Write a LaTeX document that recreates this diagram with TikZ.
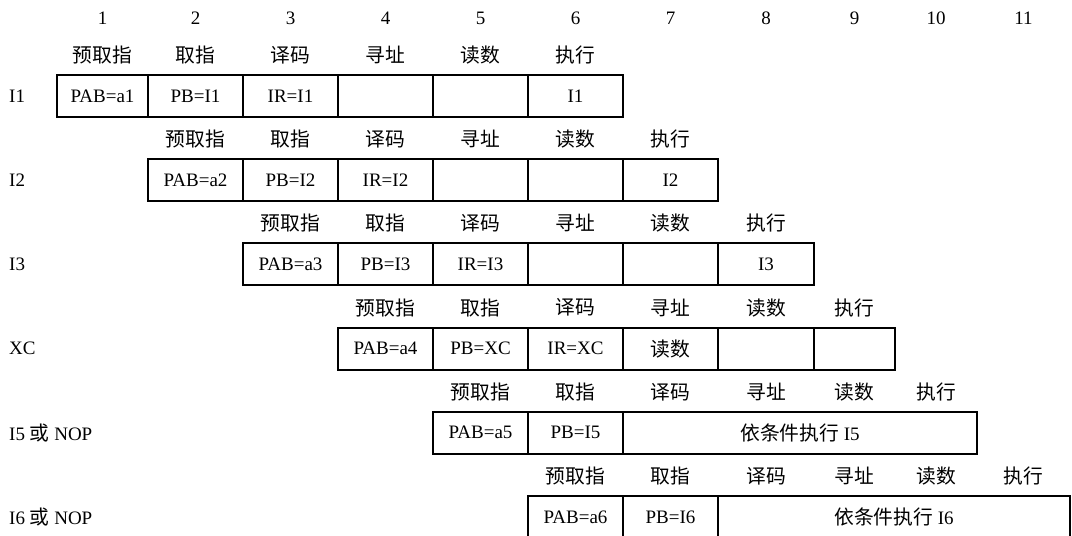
\documentclass[tikz,border=0pt]{standalone}
\usepackage{fontspec}
\setmainfont{Liberation Serif}
\newfontfamily\cjk[Scale=1.04]{Noto Sans CJK SC}
\begin{document}
\begin{tikzpicture}[x=1pt,y=1pt,
  every node/.style={font=\fontsize{19}{22}\selectfont, inner sep=0pt},
  cell/.style={draw, line width=1.9pt, minimum height=42pt, anchor=center},
  hdr/.style={anchor=center},
  rowlbl/.style={anchor=west}]
\useasboundingbox (0,0) rectangle (1072,-536);
% column numbers
\node[hdr] (n1) at (102.5,-18) {1};
\node[hdr] (n2) at (195.5,-18) {2};
\node[hdr] (n3) at (290.5,-18) {3};
\node[hdr] (n4) at (385.5,-18) {4};
\node[hdr] (n5) at (480.5,-18) {5};
\node[hdr] (n6) at (575.5,-18) {6};
\node[hdr] (n7) at (670.5,-18) {7};
\node[hdr] (n8) at (766,-18) {8};
\node[hdr] (n9) at (854.5,-18) {9};
\node[hdr] (n10) at (936,-18) {10};
\node[hdr] (n11) at (1023.5,-18) {11};
% ---------- row 1
\node[rowlbl] (l1) at (9,-96) {I1};
\node[hdr] (h1a) at (102.5,-55) {\cjk 预取指};
\node[hdr] (h1b) at (195.5,-55) {\cjk 取指};
\node[hdr] (h1c) at (290.5,-55) {\cjk 译码};
\node[hdr] (h1d) at (385.5,-55) {\cjk 寻址};
\node[hdr] (h1e) at (480.5,-55) {\cjk 读数};
\node[hdr] (h1f) at (575.5,-55) {\cjk 执行};
\node[cell, minimum width=91pt] (c1a) at (102.5,-96) {PAB=a1};
\node[cell, minimum width=95pt] (c1b) at (195.5,-96) {PB=I1};
\node[cell, minimum width=95pt] (c1c) at (290.5,-96) {IR=I1};
\node[cell, minimum width=95pt] (c1d) at (385.5,-96) {};
\node[cell, minimum width=95pt] (c1e) at (480.5,-96) {};
\node[cell, minimum width=95pt] (c1f) at (575.5,-96) {I1};
% ---------- row 2
\node[rowlbl] (l2) at (9,-180.2) {I2};
\node[hdr] (h2a) at (195.5,-139.2) {\cjk 预取指};
\node[hdr] (h2b) at (290.5,-139.2) {\cjk 取指};
\node[hdr] (h2c) at (385.5,-139.2) {\cjk 译码};
\node[hdr] (h2d) at (480.5,-139.2) {\cjk 寻址};
\node[hdr] (h2e) at (575.5,-139.2) {\cjk 读数};
\node[hdr] (h2f) at (670.5,-139.2) {\cjk 执行};
\node[cell, minimum width=95pt] (c2a) at (195.5,-180.2) {PAB=a2};
\node[cell, minimum width=95pt] (c2b) at (290.5,-180.2) {PB=I2};
\node[cell, minimum width=95pt] (c2c) at (385.5,-180.2) {IR=I2};
\node[cell, minimum width=95pt] (c2d) at (480.5,-180.2) {};
\node[cell, minimum width=95pt] (c2e) at (575.5,-180.2) {};
\node[cell, minimum width=95pt] (c2f) at (670.5,-180.2) {I2};
% ---------- row 3
\node[rowlbl] (l3) at (9,-264.4) {I3};
\node[hdr] (h3a) at (290.5,-223.4) {\cjk 预取指};
\node[hdr] (h3b) at (385.5,-223.4) {\cjk 取指};
\node[hdr] (h3c) at (480.5,-223.4) {\cjk 译码};
\node[hdr] (h3d) at (575.5,-223.4) {\cjk 寻址};
\node[hdr] (h3e) at (670.5,-223.4) {\cjk 读数};
\node[hdr] (h3f) at (766,-223.4) {\cjk 执行};
\node[cell, minimum width=95pt] (c3a) at (290.5,-264.4) {PAB=a3};
\node[cell, minimum width=95pt] (c3b) at (385.5,-264.4) {PB=I3};
\node[cell, minimum width=95pt] (c3c) at (480.5,-264.4) {IR=I3};
\node[cell, minimum width=95pt] (c3d) at (575.5,-264.4) {};
\node[cell, minimum width=95pt] (c3e) at (670.5,-264.4) {};
\node[cell, minimum width=96pt] (c3f) at (766,-264.4) {I3};
% ---------- row 4
\node[rowlbl] (l4) at (9,-348.6) {XC};
\node[hdr] (h4a) at (385.5,-307.6) {\cjk 预取指};
\node[hdr] (h4b) at (480.5,-307.6) {\cjk 取指};
\node[hdr] (h4c) at (575.5,-307.6) {\cjk 译码};
\node[hdr] (h4d) at (670.5,-307.6) {\cjk 寻址};
\node[hdr] (h4e) at (766,-307.6) {\cjk 读数};
\node[hdr] (h4f) at (854.5,-307.6) {\cjk 执行};
\node[cell, minimum width=95pt] (c4a) at (385.5,-348.6) {PAB=a4};
\node[cell, minimum width=95pt] (c4b) at (480.5,-348.6) {PB=XC};
\node[cell, minimum width=95pt] (c4c) at (575.5,-348.6) {IR=XC};
\node[cell, minimum width=95pt] (c4d) at (670.5,-348.6) {\cjk 读数};
\node[cell, minimum width=96pt] (c4e) at (766,-348.6) {};
\node[cell, minimum width=81pt] (c4f) at (854.5,-348.6) {};
% ---------- row 5
\node[rowlbl] (l5) at (9,-432.8) {I5 {\cjk 或} NOP};
\node[hdr] (h5a) at (480.5,-391.8) {\cjk 预取指};
\node[hdr] (h5b) at (575.5,-391.8) {\cjk 取指};
\node[hdr] (h5c) at (670.5,-391.8) {\cjk 译码};
\node[hdr] (h5d) at (766,-391.8) {\cjk 寻址};
\node[hdr] (h5e) at (854.5,-391.8) {\cjk 读数};
\node[hdr] (h5f) at (936,-391.8) {\cjk 执行};
\node[cell, minimum width=95pt] (c5a) at (480.5,-432.8) {PAB=a5};
\node[cell, minimum width=95pt] (c5b) at (575.5,-432.8) {PB=I5};
\node[cell, minimum width=354pt] (c5c) at (800,-432.8) {{\cjk 依条件执行} I5};
% ---------- row 6
\node[rowlbl] (l6) at (9,-517) {I6 {\cjk 或} NOP};
\node[hdr] (h6a) at (575.5,-476) {\cjk 预取指};
\node[hdr] (h6b) at (670.5,-476) {\cjk 取指};
\node[hdr] (h6c) at (766,-476) {\cjk 译码};
\node[hdr] (h6d) at (854.5,-476) {\cjk 寻址};
\node[hdr] (h6e) at (936,-476) {\cjk 读数};
\node[hdr] (h6f) at (1023.5,-476) {\cjk 执行};
\node[cell, minimum width=95pt] (c6a) at (575.5,-517) {PAB=a6};
\node[cell, minimum width=95pt] (c6b) at (670.5,-517) {PB=I6};
\node[cell, minimum width=352pt] (c6c) at (894,-517) {{\cjk 依条件执行} I6};
\end{tikzpicture}
\end{document}
